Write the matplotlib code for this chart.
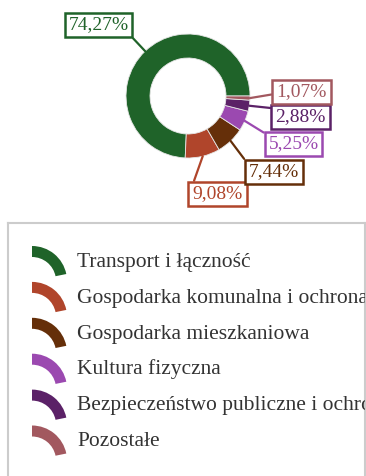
import matplotlib.pyplot as plt
from matplotlib.patches import Wedge
import numpy as np

W, H = 366, 476

categories = ["Transport i łączność",
              "Gospodarka komunalna i ochrona środowiska",
              "Gospodarka mieszkaniowa",
              "Kultura fizyczna",
              "Bezpieczeństwo publiczne i ochrona przeciwpożarowa",
              "Pozostałe"]
shares = [74.27, 9.08, 7.44, 5.25, 2.88, 1.07]
colors = ["#1f6329", "#b0452b", "#652f09", "#9b49b0", "#5b2167", "#a2585f"]

# label box centres (px, from top-left) and where the connector leaves the box
label_pos = [(98.5, 25), (217.5, 194), (274, 172), (293.5, 144), (300.5, 117), (301.5, 92)]
label_rel = [(1, 0), (0, 1), (0, 0.9), (0, 1), (0, 1), (0, 0.4)]

cx, cy, R, ring = 188, 96, 62, 24

plt.rcParams['font.family'] = ['Liberation Serif', 'DejaVu Serif']

fig = plt.figure(figsize=(W / 100, H / 100), dpi=100)
ax = fig.add_axes([0, 0, 1, 1])
ax.set_xlim(0, W)
ax.set_ylim(0, H)
ax.axis('off')

wedges, _ = ax.pie(shares, colors=colors, startangle=0, counterclock=True,
                   center=(cx, H - cy), radius=R, normalize=True, frame=True,
                   wedgeprops=dict(width=ring, edgecolor='#e6e6e6', linewidth=0.6))
ax.set_xlim(0, W)
ax.set_ylim(0, H)
ax.set_aspect('auto')
ax.axis('off')

for w, val, col, (lx, ly), rel in zip(wedges, shares, colors, label_pos, label_rel):
    mid = np.deg2rad((w.theta1 + w.theta2) / 2)
    anchor = (cx + R * np.cos(mid), H - cy + R * np.sin(mid))
    txt = f"{val:.2f}%".replace('.', ',')
    ax.annotate(txt, xy=anchor, xytext=(lx, H - ly), ha='center', va='center',
                fontsize=14, color=col,
                bbox=dict(boxstyle='square,pad=0.2', fc='white', ec=col, lw=1.8),
                arrowprops=dict(arrowstyle='-', color=col, lw=1.6, relpos=rel,
                                shrinkA=0, shrinkB=0))

# legend panel
lg = fig.add_axes([8 / W, 0, (365 - 8) / W, (H - 223) / H])
lg.set_xlim(8, 365)
lg.set_ylim(0, H - 223)
lg.set_xticks([])
lg.set_yticks([])
for side in ['top', 'left', 'right']:
    lg.spines[side].set_color('#cccccc')
    lg.spines[side].set_linewidth(1.5)
lg.spines['bottom'].set_visible(False)

for i, (name, col) in enumerate(zip(categories, colors)):
    row = 260 + i * 35.9
    lg.add_patch(Wedge((32, H - (row + 21)), 35, 11.5, 90, width=11,
                       facecolor=col, edgecolor='none'))
    lg.text(77, H - (row + 6.7), name, fontsize=15.5, color='#333333',
            va='baseline', ha='left', clip_on=True)

fig.savefig('out.png', dpi=100)
